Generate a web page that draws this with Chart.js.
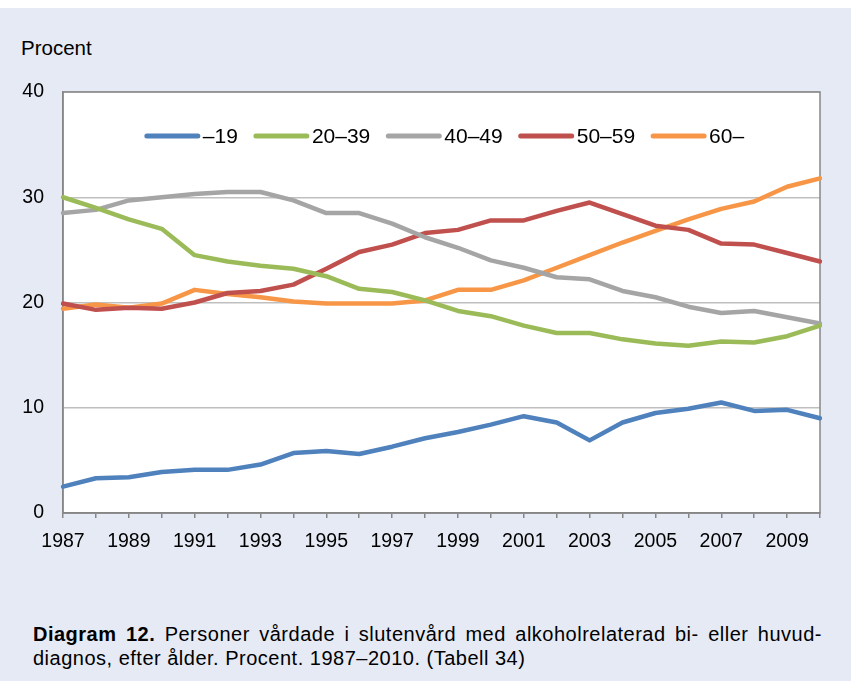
<!DOCTYPE html>
<html lang="sv">
<head>
    <meta charset="UTF-8">
    <title>Diagram 12</title>
    <script src="https://cdn.jsdelivr.net/npm/chart.js"></script>
    <style>
        body {
            margin: 0;
            background-color: #ffffff;
            font-family: 'Liberation Sans', Arial, sans-serif;
        }

        .panel {
            position: absolute;
            left: 0;
            top: 8px;
            width: 851px;
            height: 673px;
            background-color: #e6eaf5;
        }

        .chart-box {
            position: absolute;
            left: 0;
            top: 0;
            width: 851px;
            height: 560px;
        }

        .unit {
            position: absolute;
            left: 21px;
            top: 38px;
            font-size: 20.5px;
            line-height: 20px;
            color: #000;
        }

        .caption {
            position: absolute;
            left: 33px;
            top: 622px;
            width: 789px;
            font-size: 20px;
            letter-spacing: 0.5px;
            line-height: 24px;
            color: #000;
        }

        .caption .first {
            text-align: justify;
            text-align-last: justify;
        }
    </style>
</head>
<body>

<div class="panel"></div>
<div class="unit">Procent</div>
<div class="chart-box">
    <canvas id="myChart" width="851" height="560"></canvas>
</div>
<div class="caption">
    <div class="first"><b>Diagram 12.</b> Personer vårdade i slutenvård med alkoholrelaterad bi- eller huvud-</div>
    <div>diagnos, efter ålder. Procent. 1987–2010. (Tabell 34)</div>
</div>

<script>
    // År 1987–2010
    const years = ['1987', '1988', '1989', '1990', '1991', '1992', '1993', '1994', '1995', '1996', '1997', '1998',
                   '1999', '2000', '2001', '2002', '2003', '2004', '2005', '2006', '2007', '2008', '2009', '2010'];

    // Andel per åldersgrupp (procent)
    const age19   = [2.5, 3.3, 3.4, 3.9, 4.1, 4.1, 4.6, 5.7, 5.9, 5.6, 6.3, 7.1, 7.7, 8.4, 9.2, 8.6, 6.9, 8.6, 9.5, 9.9, 10.5, 9.7, 9.8, 9.0];
    const age2039 = [30.0, 29.0, 27.9, 27.0, 24.5, 23.9, 23.5, 23.2, 22.5, 21.3, 21.0, 20.2, 19.2, 18.7, 17.8, 17.1, 17.1, 16.5, 16.1, 15.9, 16.3, 16.2, 16.8, 17.8];
    const age4049 = [28.5, 28.8, 29.7, 30.0, 30.3, 30.5, 30.5, 29.7, 28.5, 28.5, 27.5, 26.2, 25.2, 24.0, 23.3, 22.4, 22.2, 21.1, 20.5, 19.6, 19.0, 19.2, 18.6, 18.0];
    const age5059 = [19.9, 19.3, 19.5, 19.4, 20.0, 20.9, 21.1, 21.7, 23.2, 24.8, 25.5, 26.6, 26.9, 27.8, 27.8, 28.7, 29.5, 28.4, 27.3, 26.9, 25.6, 25.5, 24.7, 23.9];
    const age60   = [19.4, 19.8, 19.5, 19.9, 21.2, 20.8, 20.5, 20.1, 19.9, 19.9, 19.9, 20.2, 21.2, 21.2, 22.1, 23.3, 24.5, 25.7, 26.8, 27.9, 28.9, 29.6, 31.0, 31.8];

    const seriesLabels = ['–19', '20–39', '40–49', '50–59', '60–'];
    const yTicks = [0, 10, 20, 30, 40];

    const colors = ['#4f81bd', '#9bbb59', '#a5a5a5', '#c0504d', '#f79646'];
    const fontFamily = "'Liberation Sans', Arial, sans-serif";

    // Vit rityta och ram runt den
    const plotArea = {
        id: 'plotArea',
        beforeDraw(chart) {
            const a = chart.chartArea;
            const ctx = chart.ctx;
            ctx.save();
            ctx.fillStyle = '#ffffff';
            ctx.fillRect(a.left, a.top, a.right - a.left, a.bottom - a.top);
            ctx.restore();
        },
        beforeDatasetsDraw(chart) {
            const a = chart.chartArea;
            const ctx = chart.ctx;
            ctx.save();
            ctx.strokeStyle = '#868686';
            ctx.lineWidth = 1.5;
            ctx.strokeRect(a.left, a.top, a.right - a.left, a.bottom - a.top);
            ctx.restore();
        }
    };

    // Teckenförklaring inne i ritytan
    const innerLegend = {
        id: 'innerLegend',
        afterDatasetsDraw(chart) {
            const ctx = chart.ctx;
            const a = chart.chartArea;
            const lineLen = 55, gapText = 3, gapItem = 16;
            const y = a.top + 44;
            ctx.save();
            ctx.font = '21px ' + fontFamily;
            const items = chart.data.datasets.map(ds => ({
                label: ds.label,
                color: ds.borderColor,
                w: ctx.measureText(ds.label).width
            }));
            let total = 0;
            items.forEach((it, i) => {
                total += lineLen + gapText + it.w + (i < items.length - 1 ? gapItem : 0);
            });
            let x = (a.left + a.right) / 2 - total / 2 + 3;
            ctx.textBaseline = 'middle';
            ctx.textAlign = 'left';
            items.forEach(it => {
                ctx.strokeStyle = it.color;
                ctx.lineWidth = 5;
                ctx.lineCap = 'round';
                ctx.beginPath();
                ctx.moveTo(x + 2, y);
                ctx.lineTo(x + lineLen - 2, y);
                ctx.stroke();
                ctx.fillStyle = '#000';
                ctx.fillText(it.label, x + lineLen + gapText, y + 1);
                x += lineLen + gapText + it.w + gapItem;
            });
            ctx.restore();
        }
    };

    const seriesData = [age19, age2039, age4049, age5059, age60];

    const ctx = document.getElementById('myChart').getContext('2d');
    const myChart = new Chart(ctx, {
        type: 'line',
        data: {
            labels: years,
            datasets: seriesData.map((values, i) => ({
                label: seriesLabels[i],
                data: values,
                borderColor: colors[i],
                backgroundColor: colors[i],
                borderWidth: 4.5,
                borderJoinStyle: 'round',
                borderCapStyle: 'round',
                pointRadius: 0,
                tension: 0
            }))
        },
        options: {
            responsive: false,
            animation: false,
            layout: {
                padding: { top: 92, right: 31, bottom: 0, left: 0 }
            },
            scales: {
                x: {
                    offset: false,
                    afterFit(scale) { scale.height = 47; },
                    grid: {
                        drawOnChartArea: false,
                        drawTicks: true,
                        tickLength: 5,
                        color: '#868686',
                        lineWidth: 1.5
                    },
                    border: { display: true, color: '#868686', width: 1.5 },
                    ticks: {
                        autoSkip: false,
                        maxRotation: 0,
                        padding: 12,
                        color: '#000',
                        font: { family: fontFamily, size: 19.5 },
                        callback: function (value, index) {
                            return index % 2 === 0 ? this.getLabelForValue(value) : '';
                        }
                    }
                },
                y: {
                    min: yTicks[0],
                    max: yTicks[yTicks.length - 1],
                    afterFit(scale) { scale.width = 63; },
                    afterBuildTicks(scale) { scale.ticks = yTicks.map(v => ({ value: v })); },
                    grid: {
                        drawTicks: false,
                        color: '#bfbfbf',
                        lineWidth: 1.5
                    },
                    border: { display: true, color: '#868686', width: 1.5 },
                    ticks: {
                        padding: 19,
                        color: '#000',
                        font: { family: fontFamily, size: 19.5 }
                    }
                }
            },
            plugins: {
                legend: { display: false },
                tooltip: { enabled: false }
            }
        },
        plugins: [plotArea, innerLegend]
    });
</script>

</body>
</html>
